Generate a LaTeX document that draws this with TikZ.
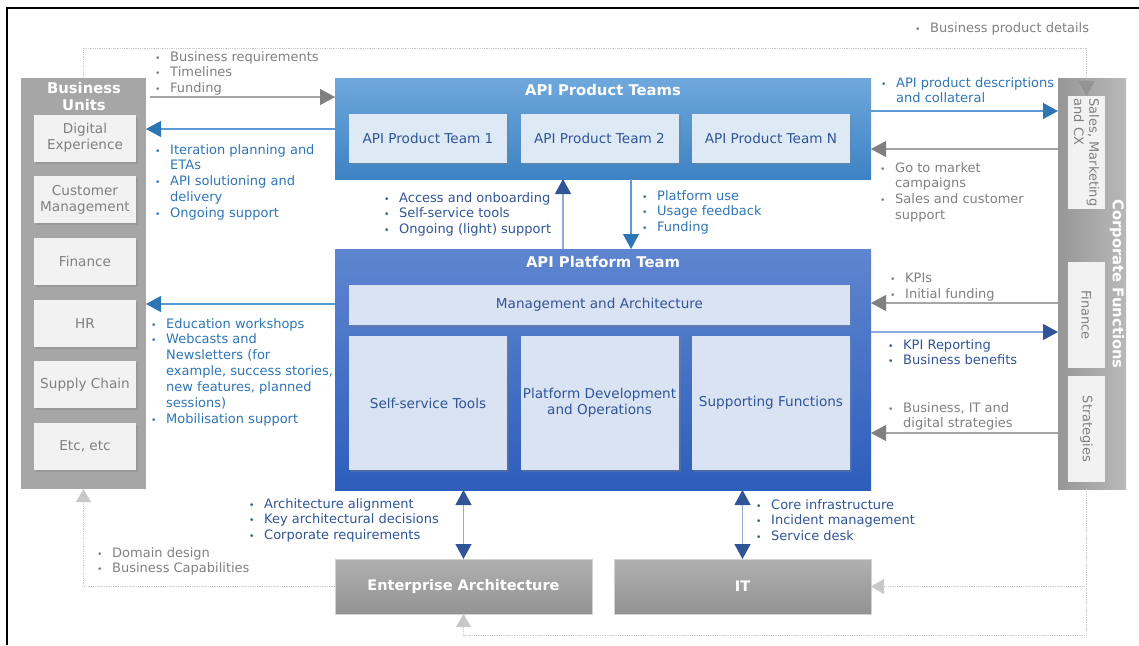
\documentclass[tikz,border=0pt]{standalone}
\usepackage{fontspec}
\setmainfont{DejaVu Sans}
\usetikzlibrary{arrows.meta,shadows}

\definecolor{bugray}{HTML}{A6A6A6}
\definecolor{boxgray}{HTML}{F2F2F2}
\definecolor{txtgray}{HTML}{808080}
\definecolor{aptop}{HTML}{6FA8DC}
\definecolor{apbot}{HTML}{3D82C4}
\definecolor{pltop}{HTML}{5F85CF}
\definecolor{plbot}{HTML}{2D5EBC}
\definecolor{aplight}{HTML}{DEE9F6}
\definecolor{pllight}{HTML}{DAE3F3}
\definecolor{navy}{HTML}{2F5597}
\definecolor{midblue}{HTML}{2E75B6}
\definecolor{lineblue}{HTML}{5B9BD5}
\definecolor{linenavy}{HTML}{8FAADC}
\definecolor{linegray}{HTML}{A6A6A6}
\definecolor{headgray}{HTML}{808080}
\definecolor{dotgray}{HTML}{C8C8C8}

\newcommand{\bl}{\makebox[15pt][l]{\scalebox{0.7}{\textbullet}}}
\newcommand{\ind}{\hspace*{15pt}}

\tikzset{
  lbl/.style={anchor=north west, align=left, inner sep=0pt, font=\fontsize{13}{15.9}\selectfont},
  graytxt/.style={lbl, text=txtgray},
  bluetxt/.style={lbl, text=midblue},
  navytxt/.style={lbl, text=navy},
  title/.style={text=white, inner sep=0pt, font=\bfseries\fontsize{14.8}{17}\selectfont},
  inbox/.style={inner sep=1pt, outer sep=0pt, align=center, font=\fontsize{13.6}{15.7}\selectfont,
    drop shadow={shadow xshift=2pt, shadow yshift=-2pt, opacity=.35}},
  unitbox/.style={inbox, fill=boxgray, text=txtgray, minimum width=102pt, minimum height=47pt},
  teambox/.style={inbox, fill=aplight, text=navy, minimum width=158pt, minimum height=49pt},
  platbox/.style={inbox, fill=pllight, text=navy, minimum width=158pt, minimum height=134pt},
  corpbox/.style={fill=boxgray, text=txtgray, rotate=-90, minimum height=37pt, inner sep=1pt,
    outer sep=0pt, font=\fontsize{13}{15.2}\selectfont},
  greybox/.style={top color=gray!62, bottom color=gray!85, draw=gray!35, text=white, outer sep=0pt,
    minimum width=257pt, minimum height=55pt, font=\bfseries\fontsize{14.5}{17}\selectfont},
  garrow/.style={draw=linegray, line width=1.3pt, -{Triangle[length=15pt,width=16pt,color=headgray]}},
  barrow/.style={draw=lineblue, line width=1.2pt, -{Triangle[length=15pt,width=16pt,color=midblue]}},
  narrow/.style={draw=linenavy, line width=1.2pt, -{Triangle[length=15pt,width=16pt,color=navy]}},
  bothnavy/.style={draw=linenavy, line width=1.2pt,
    {Triangle[length=15pt,width=16pt,color=navy]}-{Triangle[length=15pt,width=16pt,color=navy]}},
  dotline/.style={draw=dotgray, densely dotted, line width=0.8pt, -{Triangle[length=13pt,width=15pt,color=dotgray]}},
}

\begin{document}
\begin{tikzpicture}[x=1pt, y=-1pt]
  \useasboundingbox (0,0) rectangle (1139,645);
  \draw[line width=2.5pt] (1139,8) -- (7,8) -- (7,645);

  % Business units
  \node[fill=bugray, outer sep=0pt, minimum width=125pt, minimum height=411pt] (bu) at (83.5,283.5) {};
  \node[title, align=center] (butitle) at (84,96) {Business\\Units};
  \foreach \nm/\txt [count=\i from 0] in {de/{Digital\\Experience}, cm/{Customer\\Management},
      fin/Finance, hr/HR, sc/{Supply Chain}, etc/{Etc, etc}}
    \node[unitbox] (\nm) at (85,138+61.7*\i) {\txt};

  % API product teams
  \node[top color=aptop, bottom color=apbot, outer sep=0pt, minimum width=536pt, minimum height=101pt] (apt) at (603,128.5) {};
  \node[title] (apttitle) at (603,90) {API Product Teams};
  \foreach \nm/\txt [count=\i from 0] in {team1/API Product Team 1, team2/API Product Team 2, teamn/API Product Team N}
    \node[teambox] (\nm) at (428+171.5*\i,138.5) {\txt};

  % API platform team
  \node[top color=pltop, bottom color=plbot, outer sep=0pt, minimum width=536pt, minimum height=241pt] (plat) at (603,369.5) {};
  \node[title] (plattitle) at (603,262) {API Platform Team};
  \node[platbox, minimum width=501pt, minimum height=40pt] (mgmt) at (599.5,305) {Management and Architecture};
  \node[platbox] (selfserv) at (428,403) {Self-service Tools};
  \node[platbox] (pdo) at (599.5,403) {Platform Development\\and Operations};
  \node[platbox] (supfn) at (771,403) {Supporting Functions};

  % Corporate functions
  \node[left color=gray!82, right color=gray!55, outer sep=0pt, minimum width=68pt, minimum height=411pt] (corp) at (1092,283.5) {};
  \node[title, rotate=-90] (corptitle) at (1117,284) {Corporate Functions};
  \node[corpbox, minimum width=113pt, align=left] (sales) at (1086.5,152.5) {Sales, Marketing\\and CX};
  \node[corpbox, minimum width=106pt] (cfin) at (1086.5,315) {Finance};
  \node[corpbox, minimum width=106pt] (cstrat) at (1086.5,429) {Strategies};

  % Enterprise architecture and IT
  \node[greybox] (ea) at (463.5,586.5) {Enterprise Architecture};
  \node[greybox] (it) at (742.5,586.5) {IT};

  % Flows between the teams
  \draw[garrow, shorten <=4pt] (bu.east |- 0,97) -- (apt.west |- 0,97);
  \draw[barrow] (apt.west |- 0,129) -- (bu.east |- 0,129);
  \draw[barrow] (apt.east |- 0,111) -- (corp.west |- 0,111);
  \draw[garrow] (corp.west |- 0,149) -- (apt.east |- 0,149);
  \draw[narrow] (plat.north -| 563,0) -- (apt.south -| 563,0);
  \draw[barrow] (apt.south -| 631,0) -- (plat.north -| 631,0);
  \draw[barrow] (plat.west |- 0,304) -- (bu.east |- 0,304);
  \draw[garrow] (corp.west |- 0,303) -- (plat.east |- 0,303);
  \draw[narrow] (plat.east |- 0,332) -- (corp.west |- 0,332);
  \draw[garrow] (corp.west |- 0,433) -- (plat.east |- 0,433);
  \draw[bothnavy] (plat.south -| ea.north) -- (ea.north);
  \draw[bothnavy] (plat.south -| it.north) -- (it.north);

  % Dotted feedback loops
  \draw[dotline, -{Triangle[length=15pt,width=16pt,color=gray!85]}] (bu.north) -- (bu.north |- 0,48) -| (sales.west);
  \draw[dotline] (ea.west) -| (bu.south);
  \draw[dotline] (cstrat.east |- corp.south) -- (cstrat.east |- 0,635) -| (ea.south);
  \draw[dotline] (cstrat.east |- it.east) -- (it.east);

  % Labels
  \node[graytxt] (bpd) at (915,22) {\bl Business product details};
  \node[graytxt] (bizreq) at (155,51) {\bl Business requirements\\\bl Timelines\\\bl Funding};
  \node[bluetxt] (iter) at (155,144) {\bl Iteration planning and\\\ind ETAs\\\bl API solutioning and\\\ind delivery\\\bl Ongoing support};
  \node[bluetxt] (apidesc) at (881,77) {\bl API product descriptions\\\ind and collateral};
  \node[graytxt] (gtm) at (880,162) {\bl Go to market\\\ind campaigns\\\bl Sales and customer\\\ind support};
  \node[navytxt] (access) at (384,192) {\bl Access and onboarding\\\bl Self-service tools\\\bl Ongoing (light) support};
  \node[bluetxt] (use) at (642,190) {\bl Platform use\\\bl Usage feedback\\\bl Funding};
  \node[bluetxt] (edu) at (151,318) {\bl Education workshops\\\bl Webcasts and\\\ind Newsletters (for\\\ind example, success stories,\\\ind new features, planned\\\ind sessions)\\\bl Mobilisation support};
  \node[graytxt] (kpi) at (890,273) {\bl KPIs\\\bl Initial funding};
  \node[navytxt] (kpirep) at (888,339) {\bl KPI Reporting\\\bl Business benefits};
  \node[graytxt] (bitds) at (888,402) {\bl Business, IT and\\\ind digital strategies};
  \node[navytxt] (archal) at (249,498) {\bl Architecture alignment\\\bl Key architectural decisions\\\bl Corporate requirements};
  \node[navytxt] (core) at (756,499) {\bl Core infrastructure\\\bl Incident management\\\bl Service desk};
  \node[graytxt] (domain) at (97,547) {\bl Domain design\\\bl Business Capabilities};
\end{tikzpicture}
\end{document}
